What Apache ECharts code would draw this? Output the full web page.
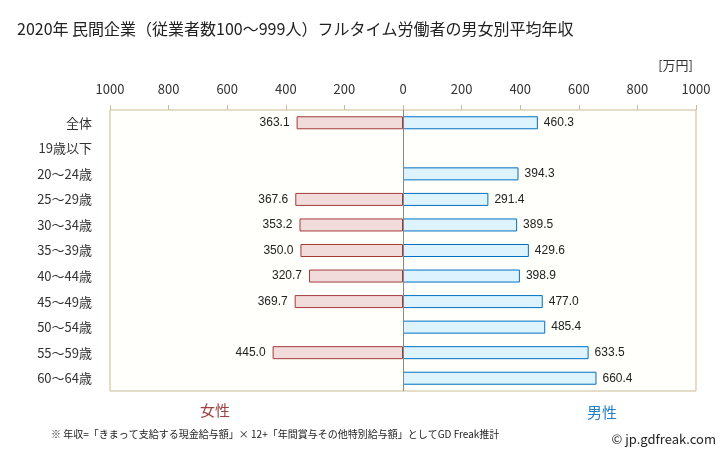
<!DOCTYPE html>
<html><head><meta charset="utf-8">
<script src="https://cdn.jsdelivr.net/npm/echarts@6/dist/echarts.min.js"></script>
<style>html,body{margin:0;padding:0;background:#fff}#c{width:728px;height:451px}</style>
</head><body><div id="c"></div>
<script>
var categories = ['全体','19歳以下','20～24歳','25～29歳','30～34歳','35～39歳','40～44歳','45～49歳','50～54歳','55～59歳','60～64歳'];
var female = [363.1, null, null, 367.6, 353.2, 350.0, 320.7, 369.7, null, 445.0, null];
var male = [460.3, null, 394.3, 291.4, 389.5, 429.6, 398.9, 477.0, 485.4, 633.5, 660.4];
var tickValues = [-1000,-800,-600,-400,-200,0,200,400,600,800,1000];

var FONT = '"Noto Sans CJK JP", "Noto Sans", sans-serif';
var chart = echarts.init(document.getElementById('c'), null, {renderer:'canvas'});
chart.setOption({
  animation:false,
  backgroundColor:'#ffffff',
  textStyle:{fontFamily:FONT},
  title:[
    {text:'2020年 民間企業（従業者数100～999人）フルタイム労働者の男女別平均年収', left:12, top:16,
     textStyle:{fontSize:16, fontWeight:'normal', color:'#222', fontFamily:FONT}},
    {text:'[万円]', right:30, top:54, textStyle:{fontSize:13, fontWeight:'normal', color:'#333', fontFamily:FONT}},
    {text:'女性', left:195, top:398, textStyle:{fontSize:15, fontWeight:'normal', color:'#a04040', fontFamily:FONT}},
    {text:'男性', left:582, top:400, textStyle:{fontSize:15, fontWeight:'normal', color:'#2080c8', fontFamily:FONT}},
    {text:'※ 年収=「きまって支給する現金給与額」× 12+「年間賞与その他特別給与額」としてGD Freak推計', left:46, top:424,
     textStyle:{fontSize:10, fontWeight:'normal', color:'#222', fontFamily:FONT}},
    {text:'© jp.gdfreak.com', right:7, top:428, textStyle:{fontSize:13, fontWeight:'normal', color:'#222', fontFamily:FONT}}
  ],
  grid:{left:110, right:32, top:110, bottom:60, show:true, backgroundColor:'#fffffb', borderColor:'#c8bc94', borderWidth:1, containLabel:false},
  xAxis:{type:'value', position:'top', min:-1000, max:1000, interval:200,
    axisLine:{show:false},
    axisTick:{show:true, inside:false, length:5, lineStyle:{color:'#c8bc94'}},
    splitLine:{show:false},
    axisLabel:{margin:14, fontSize:13, color:'#333', fontFamily:FONT,
      formatter:function(v){return String(Math.abs(v));}}
  },
  yAxis:{type:'category', data:categories, inverse:true,
    axisLine:{show:false}, axisTick:{show:false},
    axisLabel:{fontSize:13, color:'#333', margin:18, fontFamily:FONT}
  },
  series:[
    {name:'女性', type:'bar', data:female.map(function(v){return v==null?null:-v;}), barWidth:13, barGap:'-100%',
     itemStyle:{color:'#f2dcdb', borderColor:'#a33a3a', borderWidth:1},
     label:{show:true, position:'left', distance:7, fontSize:12, color:'#222', fontFamily:'"Liberation Sans", Arial, sans-serif',
       formatter:function(p){return Math.abs(p.value).toFixed(1);}},
     markLine:{silent:true, symbol:'none', label:{show:false}, lineStyle:{color:'#888', type:'solid', width:1},
       data:[{xAxis:0}]}
    },
    {name:'男性', type:'bar', data:male, barWidth:13,
     itemStyle:{color:'#ddf4ff', borderColor:'#0070c0', borderWidth:1},
     label:{show:true, position:'right', distance:6, fontSize:12, color:'#222', fontFamily:'"Liberation Sans", Arial, sans-serif',
       formatter:function(p){return p.value.toFixed(1);}}
    }
  ]
});
</script></body></html>
